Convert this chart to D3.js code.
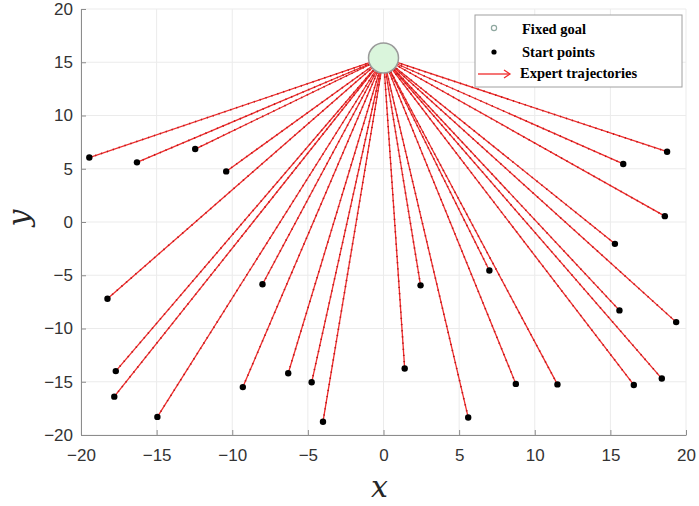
<!DOCTYPE html>
<html>
<head>
<meta charset="utf-8">
<script src="https://cdn.jsdelivr.net/npm/d3@7"></script>
<style>
  body { margin: 0; background: #fff; }
  .axis text { font-family: Arial, "Liberation Sans", sans-serif; font-size: 17px; fill: #333; }
  .axis path, .axis line { stroke: #8c8c8c; }
  .grid line { stroke: #ebebeb; }
  .legend text { font-family: "Liberation Serif", "Times New Roman", serif; font-weight: bold; font-size: 14.5px; fill: #000; }
</style>
</head>
<body>
<div id="chart"></div>
<script>
// goal position
const goal = [0, 15.4];

// start points (x, y)
const startX = [-19.45, -16.3, -12.45, -10.4, -18.25, -17.7, -17.8, -14.95, -8.0, -9.3, -6.3, -4.75, -4.0,
                1.4, 2.45, 5.6, 7.0, 8.75, 11.5, 15.3, 15.6, 16.55, 18.4, 18.6, 15.85, 18.75, 19.35];
const startY = [6.05, 5.6, 6.85, 4.75, -7.2, -14.0, -16.4, -18.3, -5.85, -15.5, -14.2, -15.05, -18.75,
                -13.75, -5.95, -18.35, -4.55, -15.2, -15.25, -2.05, -8.3, -15.3, -14.7, 0.55, 5.45, 6.6, -9.4];

const xTicks = [-20, -15, -10, -5, 0, 5, 10, 15, 20];
const yTicks = [-20, -15, -10, -5, 0, 5, 10, 15, 20];

const legendLabels = ["Fixed goal", "Start points", "Expert trajectories"];

const W = 699, H = 506;
const margin = { top: 9, right: 13, bottom: 71, left: 81 };
const width = W - margin.left - margin.right,
      height = H - margin.top - margin.bottom;

const svg = d3.select("#chart").append("svg")
    .attr("width", W)
    .attr("height", H)
  .append("g")
    .attr("transform", "translate(" + margin.left + "," + margin.top + ")");

const x = d3.scaleLinear().domain([-20, 20]).range([0, width]);
const y = d3.scaleLinear().domain([-20, 20]).range([height, 0]);

// grid
svg.append("g").attr("class", "grid")
  .selectAll("line.v").data(xTicks).enter().append("line")
    .attr("x1", d => x(d)).attr("x2", d => x(d))
    .attr("y1", 0).attr("y2", height);
svg.select(".grid")
  .selectAll("line.h").data(yTicks).enter().append("line")
    .attr("x1", 0).attr("x2", width)
    .attr("y1", d => y(d)).attr("y2", d => y(d));

// axes
svg.append("g")
    .attr("class", "axis")
    .attr("transform", "translate(0," + height + ")")
    .call(d3.axisBottom(x).tickValues(xTicks).tickSize(-5).tickSizeOuter(0).tickPadding(14));
svg.append("g")
    .attr("class", "axis")
    .call(d3.axisLeft(y).tickValues(yTicks).tickSize(-5).tickSizeOuter(0).tickPadding(8));

// axis titles
svg.append("text")
    .attr("x", width / 2 - 4)
    .attr("y", height + 62)
    .attr("text-anchor", "middle")
    .style("font-family", "'DejaVu Serif', serif")
    .style("font-style", "italic")
    .style("font-size", "30px")
    .style("fill", "#262626")
    .text("x");

svg.append("text")
    .attr("transform", "translate(" + (-52) + "," + (height / 2 - 4) + ") rotate(-90)")
    .attr("text-anchor", "middle")
    .style("font-family", "'DejaVu Serif', serif")
    .style("font-style", "italic")
    .style("font-size", "30px")
    .style("fill", "#262626")
    .text("y");

// trajectories
const starts = startX.map((d, i) => ({ x: d, y: startY[i] }));

const traj = svg.append("g").attr("class", "traj");
traj.selectAll("line.base").data(starts).enter().append("line")
    .attr("class", "base")
    .attr("x1", d => x(d.x)).attr("y1", d => y(d.y))
    .attr("x2", x(goal[0])).attr("y2", y(goal[1]))
    .attr("stroke", "#f02a2a")
    .attr("stroke-width", 1.3);
traj.selectAll("line.dots").data(starts).enter().append("line")
    .attr("class", "dots")
    .attr("x1", d => x(d.x)).attr("y1", d => y(d.y))
    .attr("x2", x(goal[0])).attr("y2", y(goal[1]))
    .attr("stroke", "#b51a1a")
    .attr("stroke-width", 1.7)
    .attr("stroke-dasharray", "1.2,5");

// start points
svg.selectAll("circle.start").data(starts).enter().append("circle")
    .attr("class", "start")
    .attr("cx", d => x(d.x)).attr("cy", d => y(d.y))
    .attr("r", 3.2)
    .attr("fill", "#000");

// goal
svg.append("circle")
    .attr("cx", x(goal[0])).attr("cy", y(goal[1]))
    .attr("r", 15)
    .attr("fill", "#daf5dc")
    .attr("stroke", "#9a9a9a")
    .attr("stroke-width", 1.5);

// legend
const lg = svg.append("g").attr("class", "legend")
    .attr("transform", "translate(" + (475 - margin.left) + "," + (15 - margin.top) + ")");
lg.append("rect")
    .attr("width", 207).attr("height", 72)
    .attr("fill", "#fff")
    .attr("stroke", "#a0a0a0");
lg.append("circle").attr("cx", 19).attr("cy", 13).attr("r", 2.6)
    .attr("fill", "#fff").attr("stroke", "#8fa8a0").attr("stroke-width", 1.2);
lg.append("circle").attr("cx", 19).attr("cy", 37).attr("r", 2.6).attr("fill", "#000");
lg.append("line").attr("x1", 3).attr("x2", 35).attr("y1", 59).attr("y2", 59)
    .attr("stroke", "#f02a2a").attr("stroke-width", 1.3);
lg.append("path").attr("d", "M29,55 L35,59 L29,63")
    .attr("fill", "none").attr("stroke", "#f02a2a").attr("stroke-width", 1.3);
lg.selectAll("text").data(legendLabels).enter().append("text")
    .attr("x", (d, i) => i === 2 ? 45 : 47)
    .attr("y", (d, i) => [19, 42, 63][i])
    .text(d => d);
</script>
</body>
</html>
